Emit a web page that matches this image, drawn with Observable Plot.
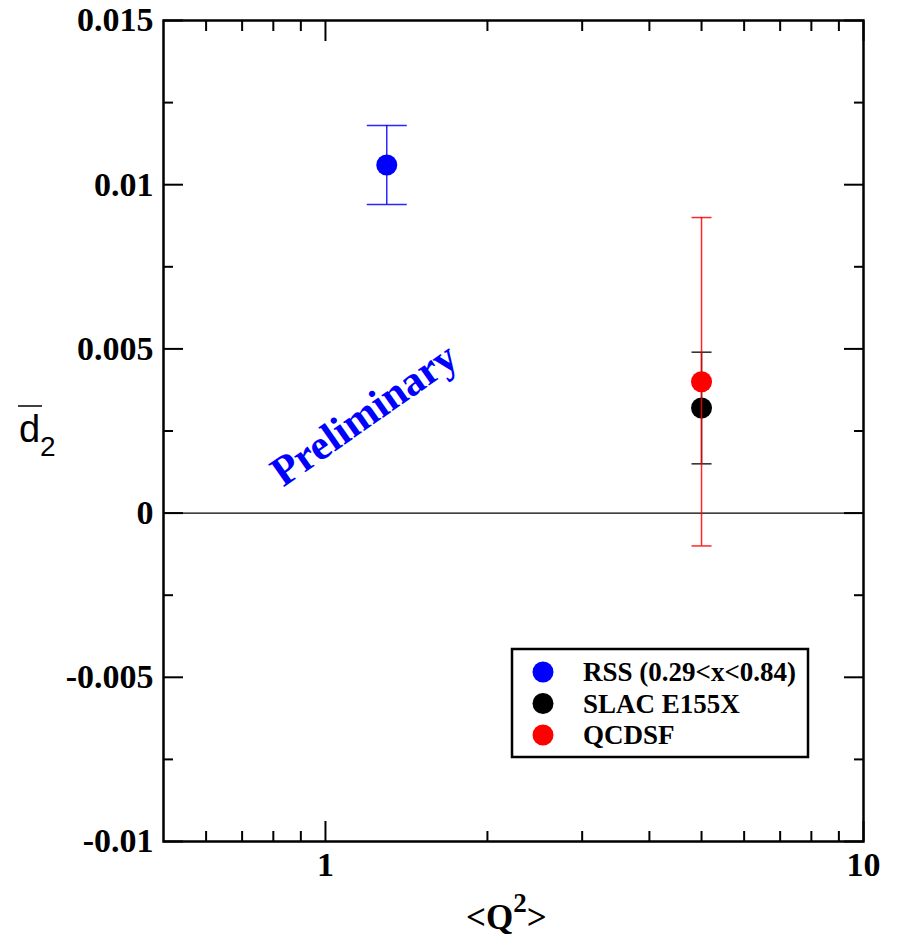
<!DOCTYPE html>
<html><head><meta charset="utf-8">
<script src="https://cdn.jsdelivr.net/npm/d3@7"></script>
<script src="https://cdn.jsdelivr.net/npm/@observablehq/plot@0.6"></script>
<style>html,body{margin:0;padding:0;background:#fff;} #chart{position:relative;width:897px;height:939px;}</style>
</head><body><div id="chart"></div>
<script>
const series = ["RSS (0.29<x<0.84)", "SLAC E155X", "QCDSF"];
const q2 = [1.3, 5.0, 5.0];
const d2 = [0.0106, 0.0032, 0.0040];
const d2Err = [0.0012, 0.0017, 0.0050];
const seriesColors = ["#0000ff", "#000000", "#ff0000"];
const capHalfWidth = [20, 10, 10];
const xMajorTicks = [1, 10];
const xTickLabels = ["1", "10"];
const xMinorTicks = [0.6, 0.7, 0.8, 0.9, 2, 3, 4, 5, 6, 7, 8, 9];
const yMajorTicks = [-0.01, -0.005, 0, 0.005, 0.01, 0.015];
const yTickLabels = ["-0.01", "-0.005", "0", "0.005", "0.01", "0.015"];
const yMinorTicks = [-0.0075, -0.0025, 0.0025, 0.0075, 0.0125];
const annotation = [{label: "Preliminary", q2: 1.18, d2: 0.0030}];

const rows = series.map((s, i) => ({series: s, q2: q2[i], d2: d2[i], lo: d2[i] - d2Err[i], hi: d2[i] + d2Err[i], cap: capHalfWidth[i]}));

const capSymbol = {draw(ctx, size) { const r = Math.sqrt(size / Math.PI); ctx.moveTo(-r, 0); ctx.lineTo(r, 0); }};

const serif = "'Liberation Serif', 'Times New Roman', Times, serif";
const marks = [];
marks.push(Plot.ruleY([0], {stroke: "black", strokeWidth: 1.2}));
rows.forEach(r => {
  marks.push(Plot.ruleX([r], {x: "q2", y1: "lo", y2: "hi", stroke: "series", strokeWidth: 1.5, strokeOpacity: 0.85}));
  marks.push(Plot.dot([r], {x: "q2", y: "hi", symbol: capSymbol, r: r.cap, stroke: "series", fill: "none", strokeWidth: 1.5, strokeOpacity: 0.85}));
  marks.push(Plot.dot([r], {x: "q2", y: "lo", symbol: capSymbol, r: r.cap, stroke: "series", fill: "none", strokeWidth: 1.5, strokeOpacity: 0.85}));
  marks.push(Plot.dot([r], {x: "q2", y: "d2", r: 10.5, fill: "series", stroke: "none"}));
});
marks.push(Plot.text(annotation, {x: "q2", y: "d2", text: "label", rotate: -35, fill: "#0000ff", fontSize: 42, fontWeight: "bold", fontFamily: serif, textAnchor: "middle", lineAnchor: "middle"}));
// axes: inward ticks on all four sides
marks.push(Plot.axisY(yMajorTicks, {anchor: "left", tickSize: -20, tickPadding: 30, strokeWidth: 2, label: null, tickFormat: d => yTickLabels[yMajorTicks.indexOf(d)]}));
marks.push(Plot.axisY(yMinorTicks, {anchor: "left", tickSize: -10, strokeWidth: 2, label: null, tickFormat: () => ""}));
marks.push(Plot.axisY(yMajorTicks, {anchor: "right", tickSize: -20, strokeWidth: 2, label: null, tickFormat: () => ""}));
marks.push(Plot.axisY(yMinorTicks, {anchor: "right", tickSize: -10, strokeWidth: 2, label: null, tickFormat: () => ""}));
marks.push(Plot.axisX(xMajorTicks, {anchor: "bottom", tickSize: -20, tickPadding: 30, strokeWidth: 2, label: null, tickFormat: d => xTickLabels[xMajorTicks.indexOf(d)]}));
marks.push(Plot.axisX(xMinorTicks, {anchor: "bottom", tickSize: -10, strokeWidth: 2, label: null, tickFormat: () => ""}));
marks.push(Plot.axisX(xMajorTicks, {anchor: "top", tickSize: -20, strokeWidth: 2, label: null, tickFormat: () => ""}));
marks.push(Plot.axisX(xMinorTicks, {anchor: "top", tickSize: -10, strokeWidth: 2, label: null, tickFormat: () => ""}));
marks.push(Plot.frame({stroke: "black", strokeWidth: 2.5}));

const svg = Plot.plot({
  width: 897, height: 939,
  marginLeft: 163, marginRight: 34, marginTop: 20, marginBottom: 98,
  x: {type: "log", domain: [0.5, 10]},
  y: {type: "linear", domain: [-0.01, 0.015]},
  color: {domain: series, range: seriesColors},
  style: {fontFamily: serif, fontSize: "34px", fontWeight: "bold", background: "white", color: "black", overflow: "visible"},
  marks
});
document.getElementById("chart").appendChild(svg);

const s = d3.select(svg);
// legend
const lg = s.append("g").attr("text-anchor", "start");
lg.append("rect").attr("x", 512).attr("y", 649).attr("width", 296).attr("height", 108)
  .attr("fill", "white").attr("stroke", "black").attr("stroke-width", 2.5);
series.forEach((name, i) => {
  const cy = 672 + i * 31.5;
  lg.append("circle").attr("cx", 543).attr("cy", cy).attr("r", 10.5).attr("fill", seriesColors[i]);
  lg.append("text").attr("x", 583).attr("y", cy + 9).attr("font-family", serif).attr("font-size", 27)
    .attr("font-weight", "bold").attr("fill", "black").text(name);
});
// y label: d-bar sub 2
const yl = s.append("g").attr("text-anchor", "start").attr("font-family", "'Liberation Sans', Arial, Helvetica, sans-serif").attr("font-weight", "normal").attr("fill", "black");
yl.append("text").attr("x", 19).attr("y", 442).attr("font-size", 38).text("d");
yl.append("text").attr("x", 40).attr("y", 456).attr("font-size", 28).text("2");
yl.append("line").attr("x1", 18).attr("x2", 42).attr("y1", 406).attr("y2", 406).attr("stroke", "black").attr("stroke-width", 1.5);
// x label <Q^2>
const xl = s.append("text").attr("text-anchor", "start").attr("x", 466).attr("y", 929).attr("font-family", serif).attr("font-weight", "bold").attr("font-size", 35).attr("fill", "black");
xl.append("tspan").text("<Q");
xl.append("tspan").attr("dy", -17).attr("font-size", 27).text("2");
xl.append("tspan").attr("dy", 17).text(">");
</script>
</body></html>
